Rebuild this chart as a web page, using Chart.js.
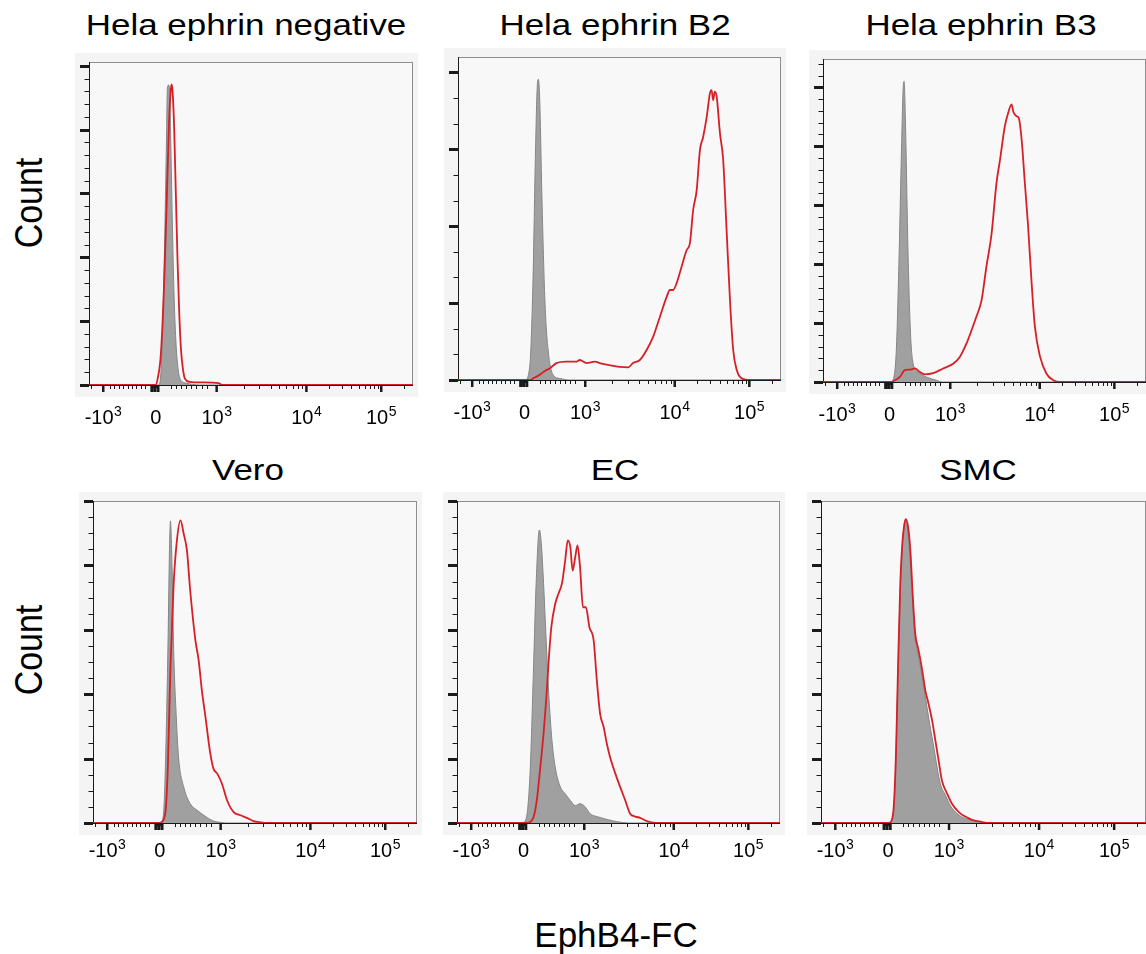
<!DOCTYPE html>
<html lang="en">
<head>
<meta charset="UTF-8">
<title>EphB4-FC binding, flow cytometry</title>
<script src="https://cdn.jsdelivr.net/npm/chart.js"></script>
<style>
  html, body { margin: 0; padding: 0; background: #fff; }
  body { width: 1146px; height: 954px; position: relative; overflow: hidden;
         font-family: "Liberation Sans", Arial, sans-serif; color: #000; }
  .title { position: absolute; width: 400px; text-align: center; font-size: 30px;
           line-height: 1; white-space: nowrap; transform: scaleX(1.165); }
  .ylab { position: absolute; left: 28px; font-size: 39px; line-height: 1; white-space: nowrap;
          transform: translate(-50%, -50%) rotate(-90deg) scaleX(0.87); }
  .xlab { position: absolute; width: 400px; text-align: center; font-size: 35px; line-height: 1; }
</style>
</head>
<body>
<div class="title" style="left:46px;top:10px">Hela ephrin negative</div>
<div class="title" style="left:415px;top:10px">Hela ephrin B2</div>
<div class="title" style="left:781px;top:10px">Hela ephrin B3</div>
<div class="title" style="left:48px;top:455px">Vero</div>
<div class="title" style="left:415px;top:455px">EC</div>
<div class="title" style="left:778px;top:455px">SMC</div>
<div class="ylab" style="top:203px">Count</div>
<div class="ylab" style="top:650px">Count</div>
<div class="xlab" style="left:416px;top:917px">EphB4-FC</div>

<script>
// x axis is in display channels (0..1000 across the plot), biexponential ticks
const X_TICK_POS = [44, 206, 394, 671, 902];
const X_TICK_BASE = ['-10', '0', '10', '10', '10'];
const X_TICK_EXP = ['3', '', '3', '4', '5'];

// histograms: [channel, count] with count in units of one major y tick
// grey = unstained control, red = EphB4-FC
const helaNegCtrl = [[0,0],[215,0],[222,0.2],[228,1.0],[234,2.4],[239,3.8],[242,4.65],[246,4.7],[249,4.6],[252,3.9],[257,2.6],[262,1.5],[268,0.7],[275,0.25],[283,0.08],[300,0.03],[340,0],[1000,0]];
const helaNegStain = [[0,0],[205,0],[212,0.1],[222,0.5],[232,1.6],[240,2.9],[247,4.1],[252,4.6],[255,4.71],[258,4.6],[263,4.0],[268,3.0],[273,2.0],[278,1.2],[284,0.55],[290,0.25],[296,0.1],[310,0.05],[350,0.04],[400,0.03],[410,0],[1000,0]];

const helaB2Ctrl = [[0,0],[207,0],[222,0.17],[232,1.26],[240,2.99],[246,3.86],[249,3.91],[253,3.64],[260,2.34],[269,1.04],[279,0.39],[294,0.07],[315,0.02],[346,0],[1000,0]];
const helaB2Stain = [[0,0],[225,0],[232,0.02],[250,0.06],[270,0.12],[284,0.15],[305,0.22],[336,0.24],[367,0.24],[377,0.26],[398,0.22],[424,0.24],[439,0.22],[460,0.2],[501,0.17],[527,0.165],[542,0.22],[563,0.26],[584,0.39],[604,0.56],[625,0.82],[646,1.08],[656,1.17],[666,1.17],[677,1.26],[692,1.47],[708,1.69],[718,1.78],[728,2.21],[739,2.47],[749,2.99],[759,3.16],[770,3.42],[780,3.73],[785,3.77],[790,3.64],[795,3.75],[801,3.68],[811,3.21],[821,2.86],[832,1.91],[842,1.04],[852,0.39],[863,0.13],[873,0.04],[899,0],[1000,0]];

const helaB3Ctrl = [[0,0],[210,0],[215,0.02],[227,0.54],[236,2.24],[243,3.94],[248,4.96],[251,5.1],[256,4.22],[263,2.24],[271,0.82],[279,0.31],[294,0.17],[320,0.085],[351,0.03],[370,0],[1000,0]];
const helaB3Stain = [[0,0],[215,0],[217,0.01],[238,0.085],[253,0.2],[269,0.21],[284,0.23],[300,0.17],[315,0.13],[341,0.15],[372,0.23],[403,0.31],[424,0.43],[444,0.65],[460,0.88],[475,1.11],[491,1.39],[506,1.96],[522,2.52],[537,3.37],[548,3.77],[563,4.34],[573,4.56],[584,4.71],[589,4.59],[594,4.54],[599,4.51],[606,4.48],[615,4.11],[625,3.37],[635,2.64],[646,1.67],[656,0.94],[672,0.43],[692,0.14],[713,0.03],[734,0],[1000,0]];

const veroCtrl = [[0,0],[208,0],[213,0.02],[220,0.35],[226,1.39],[232,2.94],[236,4.23],[239,4.69],[244,3.97],[249,2.68],[257,1.65],[264,1.02],[280,0.56],[300,0.30],[321,0.20],[342,0.12],[372,0.03],[393,0.01],[410,0],[1000,0]];
const veroStain = [[0,0],[205,0],[210,0.01],[223,0.145],[231,0.87],[239,2.42],[249,3.72],[259,4.39],[270,4.70],[280,4.49],[290,4.23],[300,3.61],[316,2.84],[326,2.53],[336,2.06],[347,1.65],[362,1.08],[372,0.84],[383,0.77],[398,0.61],[414,0.35],[434,0.17],[455,0.12],[475,0.08],[496,0.03],[517,0.01],[537,0],[1000,0]];

const ecCtrl = [[0,0],[200,0],[206,0.01],[217,0.145],[227,0.87],[237,2.42],[245,3.72],[255,4.55],[261,4.34],[268,3.72],[276,2.84],[284,2.01],[294,1.28],[304,0.87],[320,0.56],[335,0.455],[351,0.35],[366,0.27],[381,0.30],[397,0.25],[412,0.145],[433,0.10],[454,0.07],[485,0.03],[510,0.01],[530,0],[1000,0]];
const ecStain = [[0,0],[215,0],[222,0.005],[237,0.09],[247,0.35],[258,0.87],[268,1.39],[276,1.90],[284,2.53],[292,3.04],[304,3.40],[314,3.56],[325,3.72],[335,4.08],[343,4.39],[351,4.28],[358,3.92],[366,4.13],[373,4.31],[381,3.97],[390,3.35],[399,3.35],[410,3.04],[423,2.84],[433,2.21],[443,1.70],[454,1.49],[464,1.23],[474,1.02],[490,0.77],[505,0.56],[521,0.35],[536,0.145],[552,0.10],[567,0.08],[588,0.03],[608,0.005],[629,0],[1000,0]];

const smcCtrl = [[0,0],[212,0],[218,0.02],[228,0.61],[236,2.16],[244,3.61],[251,4.34],[259,4.70],[264,4.65],[272,4.23],[280,3.61],[288,2.94],[296,2.68],[306,2.42],[316,2.11],[326,1.80],[336,1.49],[347,1.18],[357,0.87],[367,0.61],[383,0.43],[398,0.27],[419,0.145],[444,0.07],[475,0.03],[506,0],[1000,0]];
const smcStain = [[0,0],[208,0],[213,0.01],[223,0.20],[231,1.13],[237,2.42],[244,3.72],[251,4.39],[257,4.65],[261,4.72],[268,4.60],[275,4.23],[282,3.56],[290,2.94],[298,2.73],[306,2.53],[313,2.32],[321,2.06],[331,1.85],[342,1.59],[352,1.28],[362,0.97],[372,0.66],[388,0.455],[403,0.30],[424,0.17],[444,0.10],[465,0.05],[496,0.015],[517,0],[1000,0]];

// plot boxes on the page [left, top, right, bottom], y range, minor y ticks per major,
// and distance from the axis to the baseline of the tick labels
const panels = [
  { box: [89, 62, 413, 385],   ymax: 5.06, ySub: 5, labelGap: 39, ctrl: helaNegCtrl, stain: helaNegStain },
  { box: [458, 57, 781, 380],  ymax: 4.2,  ySub: 3, labelGap: 39, ctrl: helaB2Ctrl,  stain: helaB2Stain },
  { box: [823, 59, 1146, 382], ymax: 5.48, ySub: 5, labelGap: 39, ctrl: helaB3Ctrl,  stain: helaB3Stain },
  { box: [93, 501, 417, 823],  ymax: 5.0,  ySub: 4, labelGap: 34, ctrl: veroCtrl,    stain: veroStain },
  { box: [457, 501, 780, 823], ymax: 5.0,  ySub: 4, labelGap: 34, ctrl: ecCtrl,      stain: ecStain },
  { box: [821, 501, 1146, 823],ymax: 5.0,  ySub: 4, labelGap: 34, ctrl: smcCtrl,     stain: smcStain }
];

const PAD_L = 16, PAD_T = 10, PAD_R = 6, PAD_B = 48;
const FONT = '"Liberation Sans", Arial, sans-serif';

// minor x ticks: linear-ish part around zero, log decades above 10^3
const xMinor = [7];
for (let i = 0; i < 9; i++) xMinor.push(64 + i * 13.75);
for (let m = 2; m <= 9; m++) xMinor.push(206 + (394 - 206) * (0.08 + 0.084 * m));
for (let m = 2; m <= 9; m++) xMinor.push(394 + (671 - 394) * Math.log10(m));
for (let m = 2; m <= 9; m++) xMinor.push(671 + (902 - 671) * Math.log10(m));
xMinor.push(902 + 231 * Math.log10(2));
const xZeroCluster = [194, 203, 213];

function seg(ctx, x1, y1, x2, y2) {
  ctx.beginPath(); ctx.moveTo(x1, y1); ctx.lineTo(x2, y2); ctx.stroke();
}

const facsAxes = {
  id: 'facsAxes',
  beforeDraw(chart) {
    const { ctx, chartArea: a } = chart;
    ctx.save();
    ctx.fillStyle = '#f4f4f4';
    ctx.fillRect(a.left - 14, a.top - 9, a.right - a.left + 19, a.bottom - a.top + 21);
    ctx.fillStyle = '#f8f8f8';
    ctx.fillRect(a.left, a.top, a.right - a.left, a.bottom - a.top);
    ctx.restore();
  },
  beforeDatasetsDraw(chart, args, opts) {
    const { ctx, chartArea: a, scales: { x, y } } = chart;
    ctx.save();
    ctx.strokeStyle = '#8e8e8e';
    ctx.lineWidth = 1;
    ctx.strokeRect(a.left + 0.5, a.top + 0.5, a.right - a.left - 1, a.bottom - a.top);
    ctx.strokeStyle = '#1a1a1a';
    seg(ctx, a.left + 0.5, a.top, a.left + 0.5, a.bottom);
    seg(ctx, a.left, a.bottom + 0.5, a.right, a.bottom + 0.5);
    // y ticks
    for (let k = 0; k <= y.max * opts.ySub + 1e-6; k++) {
      const py = Math.round(y.getPixelForValue(k / opts.ySub)) + 0.5;
      const major = k % opts.ySub === 0;
      ctx.lineWidth = major ? 3 : 1;
      seg(ctx, a.left - (major ? 9 : 4.5), py, a.left, py);
    }
    // x ticks
    const yb = a.bottom;
    ctx.lineWidth = 1;
    xMinor.forEach(v => {
      const px = Math.round(x.getPixelForValue(v)) + 0.5;
      seg(ctx, px, yb, px, yb + 4);
    });
    ctx.lineWidth = 2.5;
    X_TICK_POS.forEach((v, i) => {
      if (i === 1) return;
      const px = x.getPixelForValue(v);
      seg(ctx, px, yb, px, yb + 7);
    });
    // the crowded ticks around zero show as a dark block
    ctx.lineWidth = 3;
    xZeroCluster.forEach(v => {
      const px = x.getPixelForValue(v);
      seg(ctx, px, yb, px, yb + 7);
    });
    ctx.lineWidth = 2;
    seg(ctx, x.getPixelForValue(xZeroCluster[0]), yb + 2, x.getPixelForValue(xZeroCluster[2]), yb + 2);
    ctx.restore();
  },
  afterDraw(chart, args, opts) {
    // tick labels with a raised exponent, centred on the major ticks
    const { ctx, chartArea: a, scales: { x } } = chart;
    const base = a.bottom + opts.labelGap;
    ctx.save();
    ctx.fillStyle = '#000';
    ctx.textBaseline = 'alphabetic';
    ctx.textAlign = 'left';
    X_TICK_POS.forEach((v, i) => {
      ctx.font = `20px ${FONT}`;
      const wb = ctx.measureText(X_TICK_BASE[i]).width;
      ctx.font = `14px ${FONT}`;
      const we = X_TICK_EXP[i] ? ctx.measureText(X_TICK_EXP[i]).width + 0.5 : 0;
      const x0 = x.getPixelForValue(v) - (wb + we) / 2;
      ctx.font = `20px ${FONT}`;
      ctx.fillText(X_TICK_BASE[i], x0, base);
      if (X_TICK_EXP[i]) {
        ctx.font = `14px ${FONT}`;
        ctx.fillText(X_TICK_EXP[i], x0 + wb + 0.5, base - 8);
      }
    });
    ctx.restore();
  }
};

function toPts(arr) {
  return arr.map(d => ({ x: d[0], y: d[1] }));
}

function makePanel(p) {
  const [l, t, r, b] = p.box;
  const w = r - l + PAD_L + PAD_R;
  const h = b - t + PAD_T + PAD_B;
  const cv = document.createElement('canvas');
  cv.width = w;
  cv.height = h;
  cv.style.cssText = `position:absolute;left:${l - PAD_L}px;top:${t - PAD_T}px;width:${w}px;height:${h}px`;
  document.body.appendChild(cv);

  new Chart(cv, {
    type: 'scatter',
    data: {
      datasets: [
        {
          data: toPts(p.ctrl), showLine: true, fill: 'origin',
          backgroundColor: '#a0a0a0', borderColor: '#868686', borderWidth: 1,
          pointRadius: 0, cubicInterpolationMode: 'monotone', order: 2
        },
        {
          data: toPts(p.stain), showLine: true, fill: false,
          borderColor: '#d61f26', borderWidth: 1.8,
          pointRadius: 0, cubicInterpolationMode: 'monotone', order: 1
        }
      ]
    },
    options: {
      responsive: false,
      animation: false,
      events: [],
      layout: { padding: { top: PAD_T, right: PAD_R, left: 0, bottom: 0 } },
      plugins: {
        legend: { display: false },
        tooltip: { enabled: false },
        facsAxes: { ySub: p.ySub, labelGap: p.labelGap }
      },
      scales: {
        x: {
          type: 'linear', min: 0, max: 1000,
          grid: { display: false, drawTicks: false },
          border: { display: false },
          ticks: { display: false },
          afterFit: s => { s.height = PAD_B; }
        },
        y: {
          min: 0, max: p.ymax,
          grid: { display: false, drawTicks: false },
          border: { display: false },
          ticks: { display: false },
          afterFit: s => { s.width = PAD_L; }
        }
      }
    },
    plugins: [facsAxes]
  });
}

panels.forEach(makePanel);
</script>
</body>
</html>
